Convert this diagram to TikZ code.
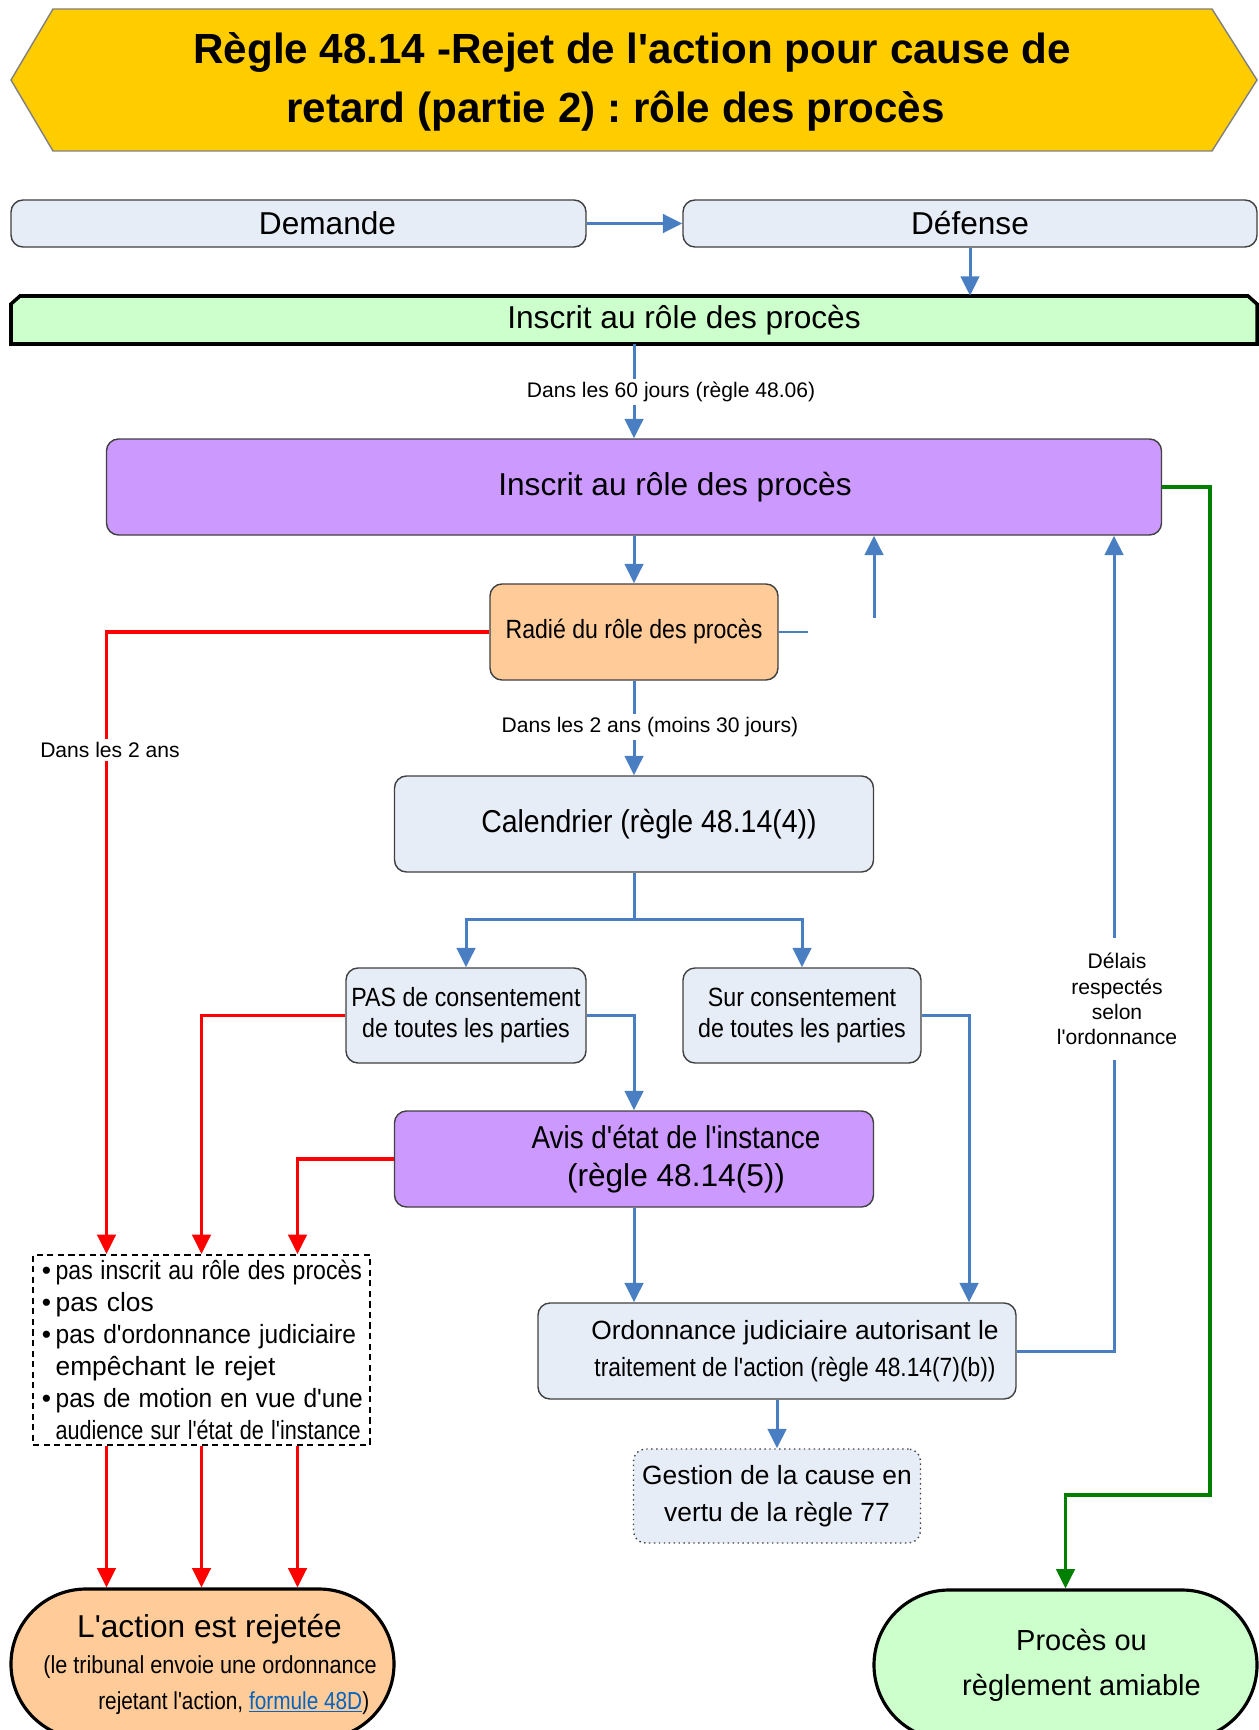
\documentclass[tikz,border=0pt]{standalone}
\usepackage{fontspec}
\setmainfont{Liberation Sans}[Ligatures=TeXOff]
\usepackage{graphicx}
\usetikzlibrary{arrows.meta, positioning, calc}
\definecolor{titlegold}{HTML}{FFCC00}
\definecolor{boxblue}{HTML}{E7EDF7}
\definecolor{boxline}{HTML}{404040}
\definecolor{lilac}{HTML}{CC99FF}
\definecolor{peach}{HTML}{FFCC99}
\definecolor{mint}{HTML}{CCFFCC}
\definecolor{flowblue}{HTML}{4A7EC2}
\definecolor{linkblue}{HTML}{0563C1}
\definecolor{okgreen}{HTML}{008000}
\newcommand{\etroit}[2]{\scalebox{#1}[1]{#2}}
\newcommand{\puce}{•\hspace{2.5pt}}
\frenchspacing
\tikzset{
    box/.style={draw=boxline, line width=0.8pt, rounded corners=2.4mm, align=center, inner sep=0pt},
    flow/.style={draw=flowblue, line width=1.7pt, -{Triangle[length=11pt, width=10.5pt]}},
    flowline/.style={draw=flowblue, line width=1.7pt},
    reject/.style={draw=red, line width=1.9pt, -{Triangle[length=11pt, width=10.5pt]}},
    settle/.style={draw=okgreen, line width=1.9pt, -{Triangle[length=11pt, width=10.5pt]}},
    note/.style={fill=white, inner sep=2pt, align=center, font=\fontsize{12}{14.3}\selectfont},
    stadium/.style={draw=black, line width=1.8pt, rounded corners=15mm, align=center, inner sep=0pt}
}
\begin{document}
\begin{tikzpicture}[x=0.2mm, y=-0.2mm]
    \useasboundingbox (0,0) rectangle (1259,1730);
    \filldraw[fill=titlegold, draw=gray, line width=0.8pt] (11,80) -- (53,9) -- (1212,9) -- (1257,80) -- (1212,151) -- (53,151) -- cycle;
    \node[align=center, font=\fontsize{24}{34}\selectfont\bfseries] (titre) at (632,82)
        {Règle 48.14 -Rejet de l'action pour cause de\\retard (partie 2) : rôle des procès\hspace*{6.6mm}};

    \node[box, fill=boxblue, minimum width=115mm, minimum height=9.4mm, font=\fontsize{18}{22}\selectfont] (demande) at (298.5,223.5) {\hspace*{11.6mm}Demande};
    \node[box, fill=boxblue, minimum width=114.8mm, minimum height=9.4mm, font=\fontsize{18}{22}\selectfont] (defense) at (970,223.5) {Défense};
    \draw[flow] (demande) -- (defense);

    \filldraw[fill=mint, draw=black, line width=2pt] (11,344) -- (11,304) -- (20,296) -- (1248,296) -- (1257,304) -- (1257,344) -- cycle;
    \node[minimum width=249.2mm, minimum height=9.6mm, inner sep=0pt, font=\fontsize{18}{22}\selectfont] (inscrit) at (634,320) {\hspace*{20mm}Inscrit au rôle des procès};
    \draw[flow] (defense) -- (defense |- inscrit.north);

    \node[box, fill=lilac, minimum width=211mm, minimum height=19.2mm, font=\fontsize{18}{22}\selectfont] (role) at (634,487) {\hspace*{16.4mm}Inscrit au rôle des procès};
    \draw[flow] (inscrit.south) -- (role.north);
    \node[note] (delai60) at (671,392) {Dans les 60 jours (règle 48.06)};

    \node[box, fill=peach, minimum width=57.6mm, minimum height=19.2mm, font=\fontsize{15}{18}\selectfont] (radie) at (634,632) {\etroit{0.876}{Radié du rôle des procès}};
    \draw[flow] (role) -- (radie);
    \coordinate (stub) at (808,632);
    \draw[flowline] (radie.east) -- (stub);
    \coordinate (retour) at (874,618);
    \draw[flow] (retour) -- (retour |- role.south);

    \node[box, fill=boxblue, minimum width=95.8mm, minimum height=19.2mm, font=\fontsize{18}{22}\selectfont] (cal) at (634,824) {\hspace*{6mm}\etroit{0.9}{Calendrier (règle 48.14(4))}};
    \draw[flow] (radie) -- (cal);
    \node[note] (delai2) at (650,727) {Dans les 2 ans (moins 30 jours)};

    \coordinate (split) at (634,919);
    \node[box, fill=boxblue, minimum width=48mm, minimum height=19mm, font=\fontsize{15}{17.6}\selectfont] (pas) at (466,1015.5)
        {\etroit{0.88}{PAS de consentement}\\\etroit{0.88}{de toutes les parties}};
    \node[box, fill=boxblue, minimum width=47.6mm, minimum height=19mm, font=\fontsize{15}{18}\selectfont] (sur) at (802,1015.5)
        {\etroit{0.88}{Sur consentement}\\\etroit{0.88}{de toutes les parties}};
    \draw[flowline] (cal) -- (split);
    \draw[flow] (split) -| (pas);
    \draw[flow] (split) -| (sur);

    \node[box, fill=lilac, minimum width=95.8mm, minimum height=19.2mm, font=\fontsize{18}{22}\selectfont] (avis) at (634,1159)
        {\hspace*{16.8mm}\etroit{0.88}{Avis d'état de l'instance}\\\hspace*{16.8mm}(règle 48.14(5))};
    \draw[flow] (pas.east) -| (avis.north);

    \node[box, fill=boxblue, minimum width=95.6mm, minimum height=19.2mm, font=\fontsize{15}{21}\selectfont] (ordo) at (777,1351)
        {\hspace*{7.2mm}Ordonnance judiciaire autorisant le\\\hspace*{7.2mm}\etroit{0.865}{traitement de l'action (règle 48.14(7)(b))}};
    \draw[flow] (avis.south) -- (avis.south |- ordo.north);
    \draw[flow] (sur.east) -| ([xshift=38.4mm]ordo.north);
    \draw[flow] (ordo.east) -| ([xshift=96mm]role.south);
    \node[note, inner ysep=9pt] (delais) at (1117,999) {Délais\\respectés\\selon\\l'ordonnance};

    \node[box, fill=boxblue, dotted, minimum width=57.4mm, minimum height=18.8mm, font=\fontsize{15}{20.7}\selectfont] (gestion) at (777,1496)
        {Gestion de la cause en\\vertu de la règle 77};
    \draw[flow] (ordo.south) -- (gestion.north);

    \node[draw=black, dash pattern=on 3.5pt off 2.5pt, line width=1.2pt, minimum width=67.4mm, minimum height=38mm, inner xsep=1.8mm, inner ysep=0pt,
          text width=63.8mm, align=left, font=\fontsize{15}{18.2}\selectfont] (liste) at (201.5,1350)
        {\mbox{\puce\etroit{0.875}{pas inscrit au rôle des procès}}\\
         \mbox{\puce pas clos}\\
         \mbox{\puce\etroit{0.93}{pas d'ordonnance judiciaire}}\\
         \mbox{\phantom{\puce}empêchant le rejet}\\
         \mbox{\puce\etroit{0.93}{pas de motion en vue d'une}}\\
         \mbox{\phantom{\puce}\etroit{0.82}{audience sur l'état de l'instance}}};
    \draw[reject] (radie.west) -| ([xshift=-19mm]liste.north);
    \node[note] (deuxans) at (110,750) {Dans les 2 ans};
    \draw[reject] (pas.west) -| (liste.north);
    \draw[reject] (avis.west) -| ([xshift=19.2mm]liste.north);

    \node[stadium, fill=peach, minimum width=76.6mm, minimum height=30mm, font=\fontsize{14}{20.5}\selectfont] (rejet) at (202.5,1664)
        {\hspace*{2.8mm}{\fontsize{18}{20.5}\selectfont L'action est rejetée}\\
         \hspace*{3mm}\etroit{0.88}{(le tribunal envoie une ordonnance}\\
         \hspace*{12.5mm}\etroit{0.845}{rejetant l'action, \textcolor{linkblue}{\underline{formule 48D}})}};
    \foreach \dx in {-19mm, 0mm, 19.2mm}
        \draw[reject] ([xshift=\dx]liste.south) -- ([xshift=\dx]liste.south |- rejet.north);

    \node[stadium, fill=mint, minimum width=76.6mm, minimum height=30mm, font=\fontsize{16.5}{25.6}\selectfont] (proces) at (1065.5,1665)
        {\hspace*{6.4mm}Procès ou\\\hspace*{6.4mm}règlement amiable};
    \coordinate (vert) at (1210,1495);
    \draw[settle] (role.east) -| (vert) -| (proces.north);
\end{tikzpicture}
\end{document}
